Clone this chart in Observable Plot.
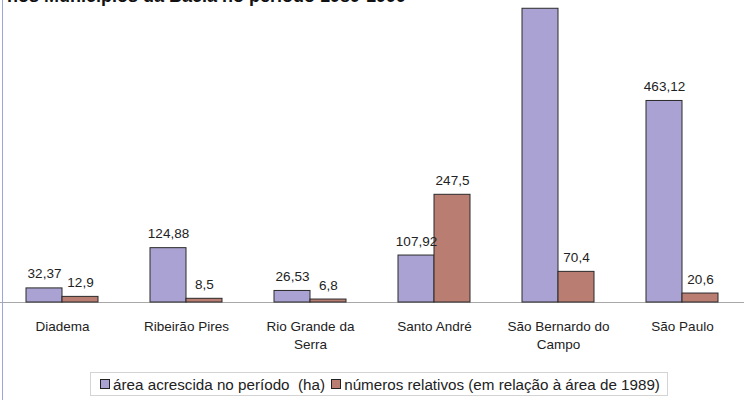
<!DOCTYPE html>
<html><head><meta charset="utf-8">
<script src="https://cdn.jsdelivr.net/npm/d3@7"></script>
<script src="https://cdn.jsdelivr.net/npm/@observablehq/plot@0.6"></script>
<style>
body{margin:0;background:#fff;font-family:"Liberation Sans",Arial,sans-serif;}
#wrap{position:relative;width:744px;height:400px;overflow:hidden;background:#fff}
#chart{position:absolute;left:0;top:0}
#title{position:absolute;left:7px;top:-13px;font-size:18px;line-height:18px;font-weight:bold;color:#111;white-space:nowrap;z-index:2}
#lb{position:absolute;left:2px;top:0;width:1px;height:400px;background:#9aa8d6;z-index:3}
#legend{position:absolute;left:90px;top:372px;width:578px;height:24px;border:1px solid #d4d4d4;box-sizing:border-box;display:flex;align-items:center;justify-content:center;font-size:15.2px;color:#222;white-space:pre}
.sw{display:inline-block;width:8px;height:8px;border:1px solid #222;margin:0 3px 0 2px}
</style></head>
<body>
<div id="wrap">
  <div id="chart"></div>
  <div id="title"></div>
  <div id="lb"></div>
  <div id="legend"></div>
</div>
<script>
const titulo = "nos Municípios da Bacia no período 1989-1999";
const municipios = ["Diadema","Ribeirão Pires","Rio Grande da Serra","Santo André","São Bernardo do Campo","São Paulo"];
const rotulos = ["Diadema","Ribeirão Pires","Rio Grande da\nSerra","Santo André","São Bernardo do\nCampo","São Paulo"];
const series = ["área acrescida no período  (ha)","números relativos (em relação à área de 1989)"];
const areaAcrescida = [32.37,124.88,26.53,107.92,675,463.12];
const numerosRelativos = [12.9,8.5,6.8,247.5,70.4,20.6];
const cores = ["#a9a2d2","#b97d71"];

const data = [];
municipios.forEach((m,i)=>{
  data.push({municipio:m, serie:series[0], valor:areaAcrescida[i]});
  data.push({municipio:m, serie:series[1], valor:numerosRelativos[i]});
});
const labels = municipios.map((m,i)=>({municipio:m, rotulo:rotulos[i]}));
const fmt = v => String(v).replace(".", ",");

const plot = Plot.plot({
  width:744, height:370,
  marginTop:0, marginLeft:0, marginRight:0, marginBottom:68,
  style:{fontFamily:"Liberation Sans, Arial, sans-serif", background:"transparent"},
  fx:{domain:municipios, padding:0, axis:null},
  x:{domain:series, paddingInner:0, paddingOuter:0.68, axis:null},
  y:{domain:[0,694], axis:null},
  color:{domain:series, range:cores},
  marks:[
    Plot.ruleY([0],{stroke:"#a8a8a8"}),
    Plot.barY(data,{fx:"municipio", x:"serie", y:"valor", fill:"serie", stroke:"#2a2a2a", strokeWidth:1}),
    Plot.text(data,{fx:"municipio", x:"serie", y:"valor", text:d=>fmt(d.valor), dy:-10, lineAnchor:"bottom", fontSize:13.5, fill:"#222", clip:true}),
    Plot.text(labels,{fx:"municipio", frameAnchor:"bottom", dy:16, lineAnchor:"top", text:"rotulo", lineHeight:1.3, fontSize:13.5, fill:"#222"})
  ]
});
document.getElementById("chart").appendChild(plot);
document.getElementById("title").textContent = titulo;
const lg = document.getElementById("legend");
series.forEach((s,i)=>{
  const sw = document.createElement("span"); sw.className="sw"; sw.style.background=cores[i];
  lg.appendChild(sw);
  const t = document.createElement("span"); t.textContent = s + (i===0?" ":""); lg.appendChild(t);
});
</script>
</body></html>
